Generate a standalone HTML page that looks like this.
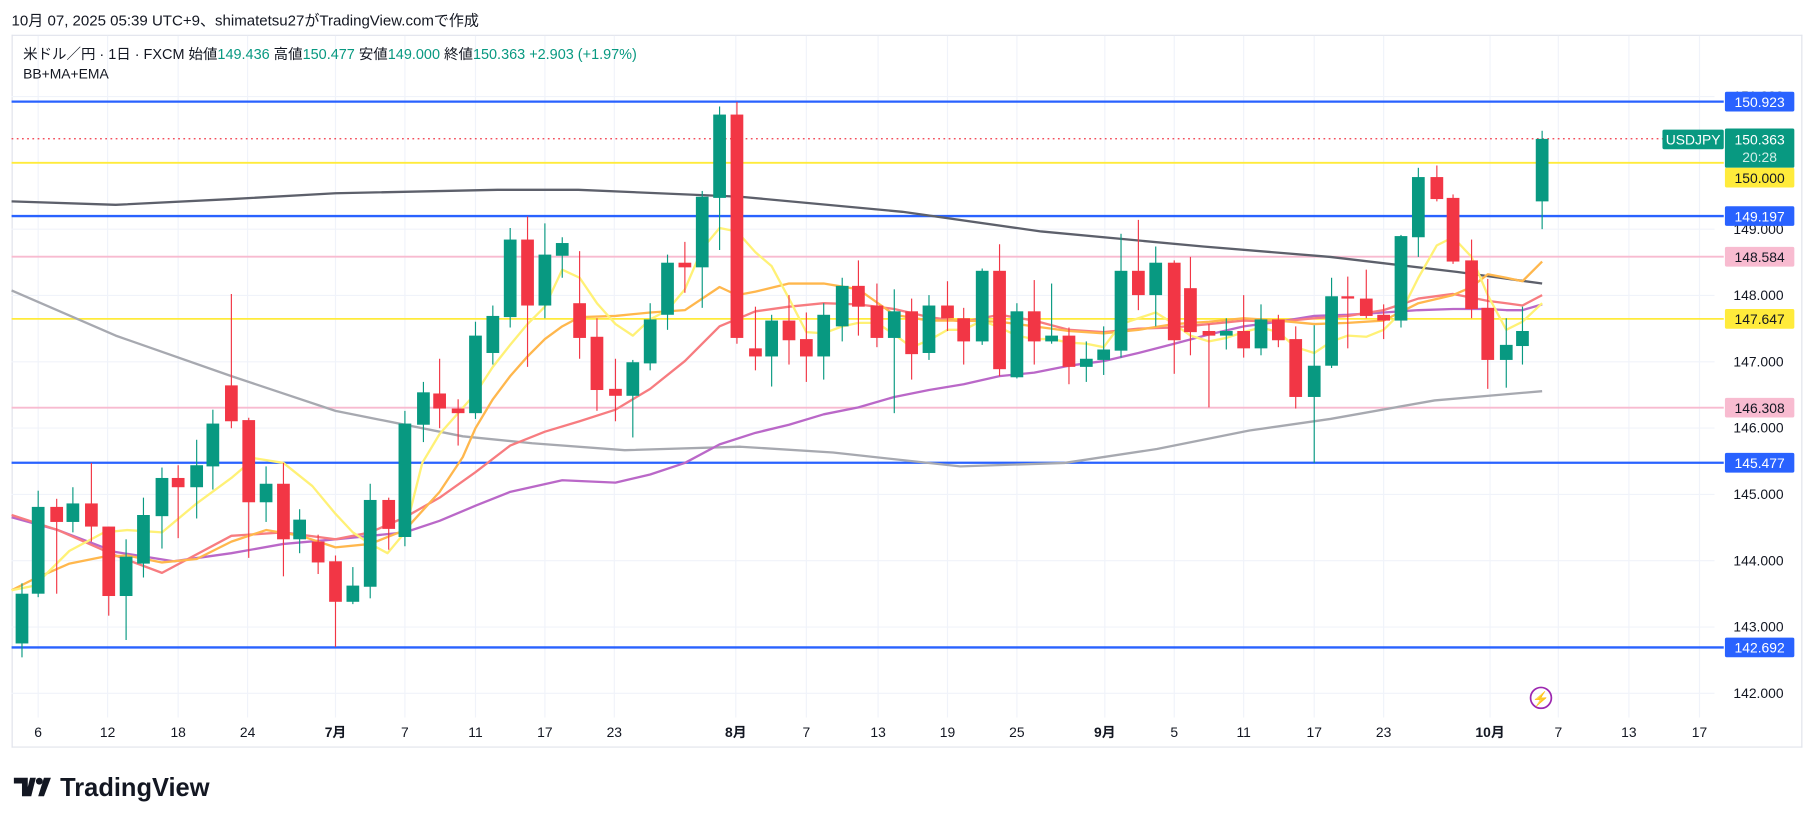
<!DOCTYPE html>
<html><head><meta charset="utf-8">
<style>
html,body{margin:0;padding:0;background:#fff;}
svg{display:block;}
text{font-family:"Liberation Sans","Noto Sans CJK JP",sans-serif;}
</style></head>
<body>
<svg id="c" xmlns="http://www.w3.org/2000/svg" width="1814" height="824" viewBox="0 0 1568 712" preserveAspectRatio="none">
<rect width="1568" height="712" fill="#fff"/>
<text x="10" y="22" font-size="13" fill="#131722">10月 07, 2025 05:39 UTC+9、shimatetsu27がTradingView.comで作成</text>
<line x1="10" y1="30.5" x2="1558" y2="30.5" stroke="#e0e3eb"/>
<line x1="10" y1="645.5" x2="1558" y2="645.5" stroke="#e0e3eb"/>
<line x1="1557.5" y1="30" x2="1557.5" y2="646" stroke="#e0e3eb"/>
<line x1="10.5" y1="30" x2="10.5" y2="646" stroke="#e0e3eb"/>
<g id="grid" stroke="#f0f3fa" stroke-width="1"></g>
<g id="lines"></g>
<g id="ma" fill="none" stroke-linejoin="round"></g>
<g id="candles"></g>
<text x="20" y="51" font-size="12.5" fill="#131722">米ドル／円 · 1日 · FXCM  始値<tspan fill="#089981">149.436</tspan>  高値<tspan fill="#089981">150.477</tspan>  安値<tspan fill="#089981">149.000</tspan>  終値<tspan fill="#089981">150.363  +2.903 (+1.97%)</tspan></text>
<text x="20" y="68" font-size="12" fill="#131722">BB+MA+EMA</text>
<g id="axis" font-size="12" fill="#131722"></g>
<circle cx="1332" cy="603" r="9" fill="none" stroke="#9c27b0" stroke-width="1.5"/>
<text x="1332" y="608" font-size="12" fill="#9c27b0" text-anchor="middle">⚡</text>
<g transform="translate(12,670)">
<path d="M0 2h12v16h-5V7H0z M14 2h5l-4 16h-5z" fill="#131722"/>
<circle cx="22" cy="5" r="3" fill="#131722"/>
<path d="M26 2h6l-6 16h-5z" fill="#131722"/>
</g>
<text x="52" y="688" font-size="22" font-weight="bold" fill="#131722">TradingView</text>
</svg>
<script>
const NS="http://www.w3.org/2000/svg";
function el(p,t,a,txt){const e=document.createElementNS(NS,t);for(const k in a)e.setAttribute(k,a[k]);if(txt!==undefined)e.textContent=txt;document.getElementById(p).appendChild(e);return e;}
const Y=p=>198+(149-p)*57.3;
[151,150,149,148,147,146,145,144,143,142].forEach(p=>el('grid','line',{x1:10,x2:1482,y1:Y(p),y2:Y(p)}));
const tl=[[33,'6'],[93,'12'],[154,'18'],[214,'24'],[290,'7月'],[350,'7'],[411,'11'],[471,'17'],[531,'23'],[636,'8月'],[697,'7'],[759,'13'],[819,'19'],[879,'25'],[955,'9月'],[1015,'5'],[1075,'11'],[1136,'17'],[1196,'23'],[1288,'10月'],[1347,'7'],[1408,'13'],[1469,'17']];
tl.forEach(t=>{el('grid','line',{x1:t[0],x2:t[0],y1:31,y2:620});
 el('axis','text',{x:t[0],y:637,'text-anchor':'middle','font-weight':(t[1].includes('月')?'bold':'normal')},t[1]);});
[151,149,148,147,146,145,144,143,142].forEach(p=>el('axis','text',{x:1520,y:Y(p)+4,'text-anchor':'middle'},p.toFixed(3)));
el('lines','line',{x1:10,x2:1482,y1:Y(150.363),y2:Y(150.363),stroke:'#f23645','stroke-dasharray':'1.5 3',"stroke-width":1});
[[150.923,'#2962ff',2],[149.197,'#2962ff',2],[145.477,'#2962ff',2],[142.692,'#2962ff',2],[150,'#ffeb3b',1.6],[147.647,'#ffeb3b',1.6],[148.584,'#f8bbd0',1.6],[146.308,'#f8bbd0',1.6]].forEach(l=>el('lines','line',{x1:10,x2:1490,y1:Y(l[0]),y2:Y(l[0]),stroke:l[1],'stroke-width':l[2]}));
function pl(pts,c,w){el('ma','polyline',{points:pts.map(p=>p.join(',')).join(' '),stroke:c,'stroke-width':w});}
pl([[10,174],[100,177],[200,172],[290,167],[430,164],[500,164],[640,170],[780,183],[900,200],[1040,213],[1150,222],[1260,235],[1333,245]],'#5d606b',2);
pl([[10,251],[100,290],[200,325],[290,355],[400,377],[460,383],[540,389],[640,386],[720,391],[830,403],[920,400],[1000,388],[1080,372],[1150,362],[1240,346],[1333,338]],'#a7a9b0',2);
pl([[10,447],[50,458],[100,477],[150,485],[200,478],[245,470],[290,466],[350,460],[380,450],[411,437],[441,425],[486,415],[532,417],[562,410],[592,400],[622,384],[653,374],[682,367],[712,358],[742,352],[773,343],[803,337],[833,332],[864,325],[894,322],[924,316],[954,312],[984,305],[1015,297],[1045,289],[1075,282],[1105,278],[1136,273],[1165,272],[1196,270],[1226,268],[1256,267],[1286,267],[1302,268],[1316,268],[1333,263]],'#ba68c8',2);
pl([[10,445],[50,458],[100,480],[140,495],[200,463],[245,460],[290,466],[320,460],[350,447],[380,430],[411,408],[441,385],[471,373],[501,364],[532,354],[562,336],[592,312],[622,282],[653,269],[682,265],[712,262],[742,263],[773,267],[803,274],[833,278],[864,272],[894,277],[924,285],[954,287],[984,284],[1015,283],[1045,280],[1075,277],[1105,278],[1136,275],[1165,273],[1196,268],[1226,258],[1256,254],[1286,260],[1302,262],[1316,264],[1333,255]],'#f77c80',2);
pl([[10,510],[30,500],[60,487],[90,481],[110,480],[140,486],[170,483],[200,468],[230,458],[260,463],[290,473],[320,470],[350,458],[380,425],[400,395],[411,370],[426,345],[441,325],[456,308],[471,293],[486,282],[501,274],[532,273],[562,270],[592,268],[622,248],[637,255],[653,252],[682,245],[712,245],[742,250],[773,272],[803,277],[833,277],[864,278],[894,282],[924,286],[954,288],[984,285],[1015,280],[1045,278],[1075,275],[1105,277],[1136,280],[1165,279],[1196,277],[1226,262],[1256,255],[1272,248],[1286,237],[1302,240],[1316,243],[1333,226]],'#ffb74d',2);
pl([[10,510],[30,506],[60,476],[90,460],[110,458],[140,460],[170,435],[200,413],[220,396],[245,400],[270,420],[290,444],[305,460],[320,470],[335,478],[350,460],[365,400],[380,375],[411,340],[426,317],[441,298],[456,280],[471,265],[486,233],[501,240],[516,262],[532,280],[547,290],[562,276],[577,268],[592,250],[607,215],[622,197],[637,200],[653,218],[667,230],[682,258],[697,287],[712,288],[728,282],[742,279],[758,279],[773,289],[788,300],[803,294],[819,285],[833,285],[849,277],[864,283],[879,290],[894,293],[909,293],[924,296],[939,297],[954,300],[969,280],[984,275],[999,270],[1015,280],[1029,290],[1045,295],[1060,292],[1075,287],[1090,283],[1105,287],[1120,300],[1136,305],[1151,295],[1165,290],[1181,291],[1196,285],[1211,270],[1226,240],[1242,212],[1256,205],[1272,222],[1286,255],[1302,285],[1316,278],[1333,262]],'#fff176',2);
const C=`19 G 513 556 504 568
33 G 438 513 424 516
49 R 438 451 431 513
63 G 435 451 421 460
79 R 435 455 400 468
94 R 455 515 455 532
109 G 481 515 466 553
124 G 445 487 430 499
140 G 413 446 404 474
154 R 413 421 402 465
170 G 402 421 380 448
184 G 366 403 354 423
200 R 333 364 254 370
215 R 363 434 361 482
230 G 418 434 403 451
245 R 418 466 400 498
259 G 449 466 440 478
275 R 468 486 462 496
290 R 485 520 480 559
305 G 506 520 490 522
320 G 432 507 418 517
336 R 432 457 430 475
350 G 366 464 355 472
366 G 339 367 330 382
380 R 340 353 310 370
396 R 353 357 345 385
411 G 290 357 278 362
426 G 273 305 264 315
441 G 207 274 197 283
456 R 207 264 187 317
471 G 220 264 193 275
486 G 210 221 205 240
501 R 262 292 217 310
516 R 291 337 275 355
532 R 336 342 310 364
547 G 313 342 311 378
562 G 276 314 262 320
577 G 227 272 220 285
592 R 227 231 209 253
607 G 170 231 165 266
622 G 99 171 92 216
637 R 99 292 88 297
653 R 301 308 265 320
667 G 277 308 272 334
682 R 277 294 255 315
697 R 293 308 270 330
712 G 272 308 262 328
728 G 247 282 240 295
742 R 247 265 225 290
758 R 264 292 245 300
773 G 269 292 250 357
788 R 269 306 258 328
803 G 264 305 255 311
819 R 264 275 243 286
833 R 275 295 266 315
849 G 234 295 232 298
864 R 234 319 211 325
879 G 269 326 262 327
894 R 269 295 242 315
909 G 290 295 245 297
924 R 290 317 283 332
939 G 310 317 295 330
954 G 302 311 282 324
969 G 234 303 202 309
984 R 234 255 190 268
999 G 227 255 213 282
1015 R 227 294 225 323
1029 R 249 287 222 307
1045 R 286 290 280 352
1060 G 286 290 275 302
1075 R 286 301 255 309
1090 G 276 301 263 307
1105 R 276 294 272 300
1120 R 293 343 282 353
1136 G 316 343 281 400
1151 G 256 316 240 318
1165 R 256 258 239 301
1181 R 258 273 233 275
1196 R 272 277 263 293
1211 G 204 277 203 283
1226 G 153 205 145 222
1242 R 153 172 143 174
1256 R 171 226 168 228
1272 R 225 267 207 275
1286 R 266 311 241 336
1302 G 298 311 275 335
1316 G 286 299 265 315
1333 G 120 174 113 198`;
C.split('\n').forEach(r=>{const a=r.trim().split(/\s+/);const x=+a[0],col=a[1]=='G'?'#089981':'#f23645',t=+a[2],b=+a[3],h=+a[4],l=+a[5];
 el('candles','line',{x1:x,x2:x,y1:h,y2:l,stroke:col,'stroke-width':1});
 el('candles','rect',{x:x-5.5,y:t,width:11,height:Math.max(b-t,1.5),fill:col});});
function lab(p,bg,fg,yy){const y=yy||Y(p);el('axis','rect',{x:1491,y:y-8.5,width:60,height:17,fill:bg,rx:1.5});el('axis','text',{x:1521,y:y+4.5,'text-anchor':'middle',fill:fg},p.toFixed(3));}
lab(150.923,'#2962ff','#fff');lab(149.197,'#2962ff','#fff');lab(145.477,'#2962ff','#fff');lab(142.692,'#2962ff','#fff');
lab(147.647,'#ffeb3b','#131722');lab(148.584,'#f8bbd0','#131722');lab(146.308,'#f8bbd0','#131722');
el('axis','rect',{x:1491,y:111,width:60,height:34,fill:'#089981',rx:1.5});
el('axis','text',{x:1521,y:125,'text-anchor':'middle',fill:'#fff'},'150.363');
el('axis','text',{x:1521,y:140,'text-anchor':'middle',fill:'#d1efe9'},'20:28');
lab(150,'#ffeb3b','#131722',153.5);
el('axis','rect',{x:1437,y:112,width:53,height:17,fill:'#089981',rx:1.5});
el('axis','text',{x:1463.5,y:125,'text-anchor':'middle',fill:'#fff'},'USDJPY');
</script>
</body></html>
